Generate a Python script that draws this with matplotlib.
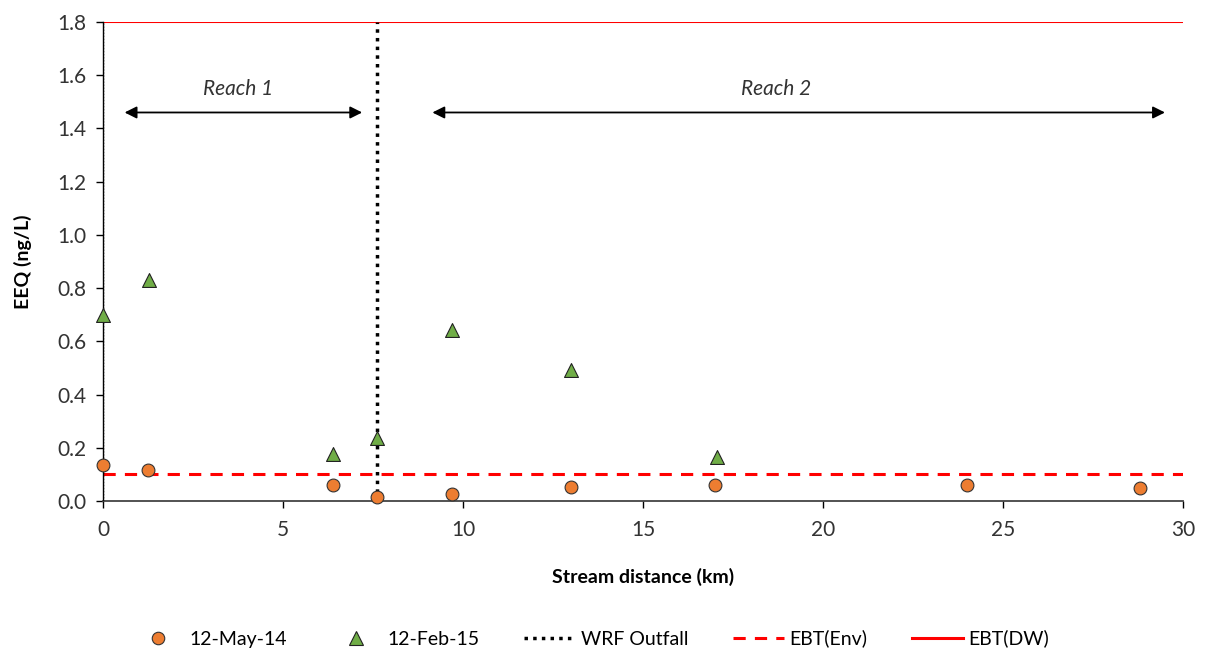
import matplotlib
matplotlib.use("Agg")
import matplotlib.pyplot as plt
from matplotlib.lines import Line2D

plt.rcParams['font.family'] = ['Lato', 'DejaVu Sans']

# Data
may14_x = [0.0, 1.26, 6.38, 7.6, 9.7, 13.0, 17.0, 24.0, 28.8]
may14_y = [0.135, 0.116, 0.059, 0.015, 0.028, 0.053, 0.059, 0.059, 0.047]
feb15_x = [0.0, 1.28, 6.4, 7.6, 9.7, 13.0, 17.05]
feb15_y = [0.70, 0.83, 0.176, 0.235, 0.644, 0.493, 0.164]
outfall_x = 7.6
ebt_env = 0.1
ebt_dw = 1.8
xticks = [0, 5, 10, 15, 20, 25, 30]
yticks = [0.0, 0.2, 0.4, 0.6, 0.8, 1.0, 1.2, 1.4, 1.6, 1.8]

fig = plt.figure(figsize=(12.06, 6.53), dpi=100)
ax = fig.add_axes([0.0854, 0.2328, 0.8955, 0.7335])

ax.axhline(ebt_dw, color='#FF0000', lw=1.5, zorder=2)
ax.axhline(ebt_env, color='#FF0000', lw=2.2, ls=(0, (4, 3)), zorder=2)
ax.axvline(0, color='black', lw=1.0, ls=(0, (1, 1.2)), zorder=3)
ax.axvline(outfall_x, color='black', lw=2.5, ls=(0, (1, 1.5)), zorder=3)

ax.scatter(may14_x, may14_y, s=85, marker='o', facecolor='#ED7D31',
           edgecolor='#333333', linewidth=0.8, zorder=5, clip_on=False)
ax.scatter(feb15_x, feb15_y, s=100, marker='^', facecolor='#70AD47',
           edgecolor='#222222', linewidth=0.8, zorder=5, clip_on=False)

# Reach arrows
ax.annotate('', xy=(0.6, 1.46), xytext=(7.2, 1.46),
            arrowprops=dict(arrowstyle='<|-|>', color='black', lw=1.3,
                            mutation_scale=18, shrinkA=0, shrinkB=0))
ax.annotate('', xy=(9.15, 1.46), xytext=(29.5, 1.46),
            arrowprops=dict(arrowstyle='<|-|>', color='black', lw=1.3,
                            mutation_scale=18, shrinkA=0, shrinkB=0))
ax.text(3.75, 1.55, 'Reach 1', style='italic', fontsize=15, ha='center', va='center', color='#333333')
ax.text(18.7, 1.55, 'Reach 2', style='italic', fontsize=15, ha='center', va='center', color='#333333')

ax.set_xlim(0, 30)
ax.set_ylim(0, 1.8)
ax.set_xticks(xticks)
ax.set_yticks(yticks)
ax.set_yticklabels([f'{v:.1f}' for v in yticks])
ax.tick_params(axis='both', labelsize=15, colors='black', labelcolor='#333333', length=5, width=1)
ax.tick_params(axis='x', pad=9)
ax.tick_params(axis='y', pad=7)

for s in ['top', 'right']:
    ax.spines[s].set_visible(False)
ax.spines['left'].set_color('black')
ax.spines['bottom'].set_color('#444444')
ax.spines['left'].set_linewidth(1.0)
ax.spines['bottom'].set_linewidth(1.3)

ax.set_xlabel('Stream distance (km)', fontsize=14, fontweight='bold', labelpad=20)
ax.set_ylabel('EEQ (ng/L)', fontsize=14, fontweight='bold', labelpad=18)

handles = [
    Line2D([], [], marker='o', ls='none', markersize=9, markerfacecolor='#ED7D31', markeredgecolor='#333333', markeredgewidth=0.8),
    Line2D([], [], marker='^', ls='none', markersize=10, markerfacecolor='#70AD47', markeredgecolor='#222222', markeredgewidth=0.8),
    Line2D([], [], color='black', lw=2.5, ls=(0, (1, 1.5))),
    Line2D([], [], color='#FF0000', lw=2.2, ls=(0, (4, 3))),
    Line2D([], [], color='#FF0000', lw=2.2),
]
labels = ['12-May-14', '12-Feb-15', 'WRF Outfall', 'EBT(Env)', 'EBT(DW)']
fig.legend(handles, labels, loc='center', bbox_to_anchor=(0.49, 0.022), ncol=5,
           frameon=False, fontsize=14, handlelength=2.6, columnspacing=2.3, handletextpad=0.3)

fig.savefig('out.png', dpi=100)
